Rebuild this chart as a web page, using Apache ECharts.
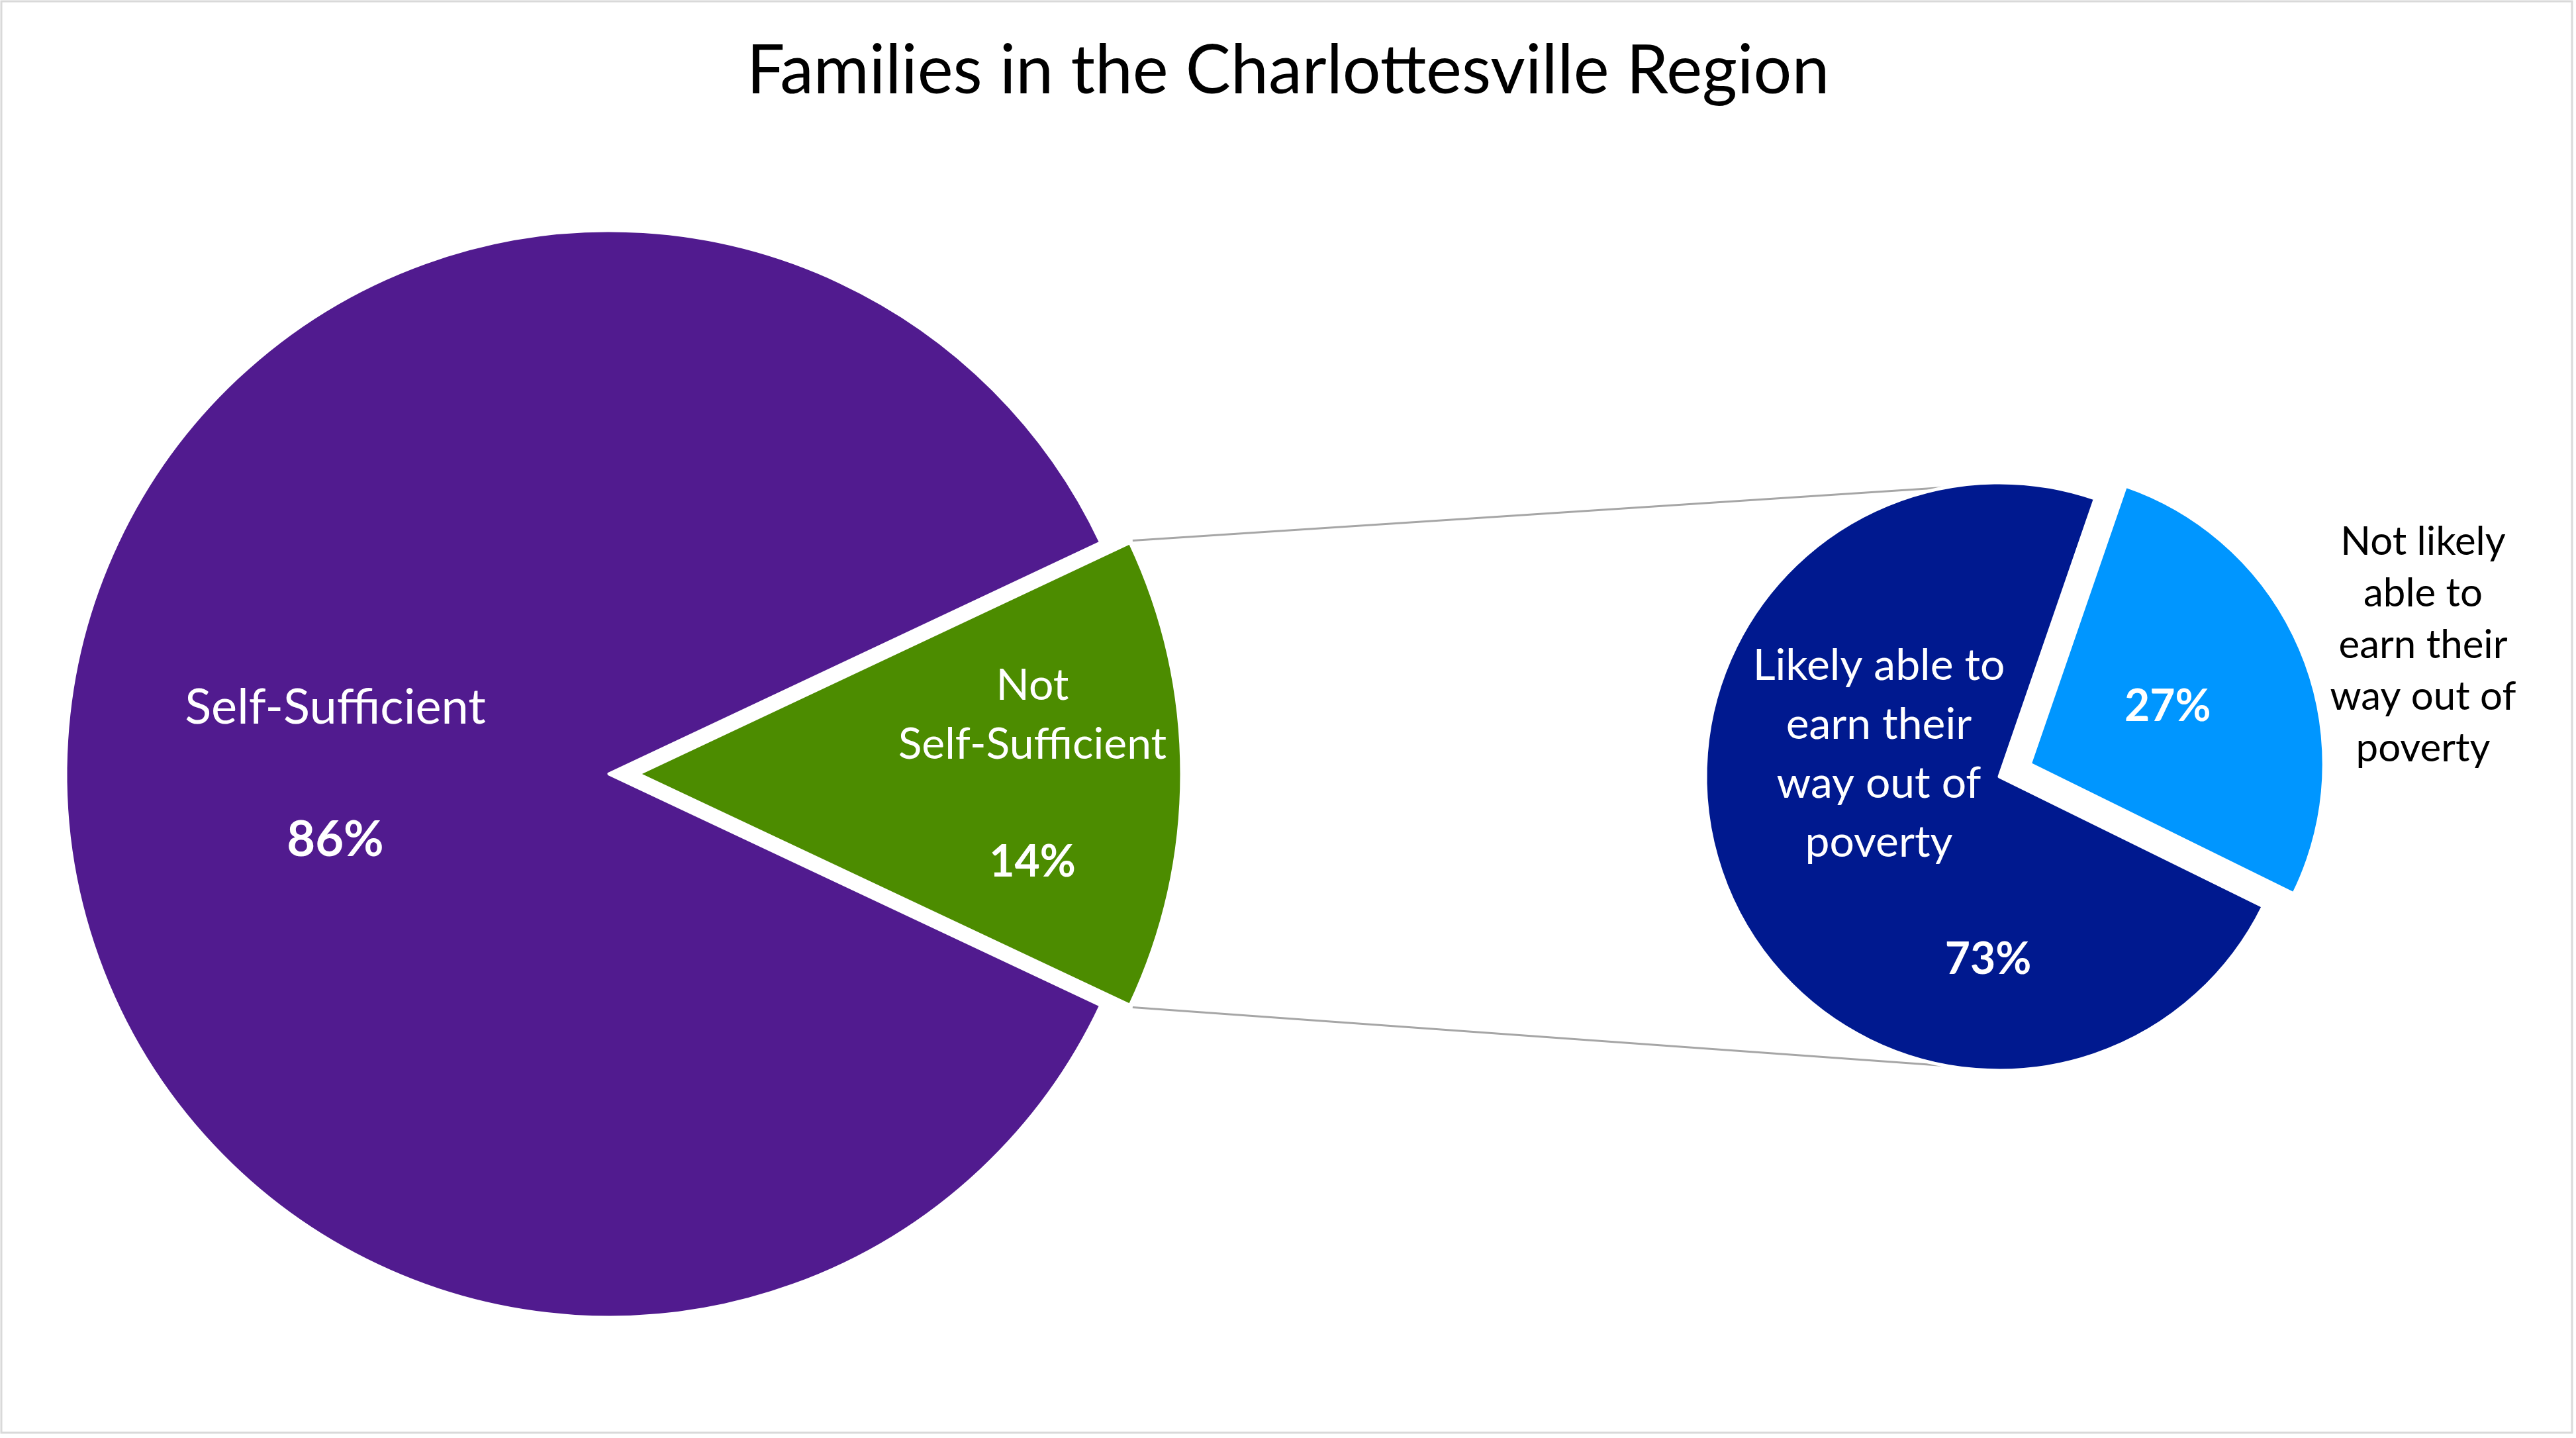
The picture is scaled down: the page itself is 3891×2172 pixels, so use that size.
<!DOCTYPE html>
<html><head><meta charset="utf-8">
<script src="https://cdn.jsdelivr.net/npm/echarts@6/dist/echarts.min.js"></script>
<style>html,body{margin:0;padding:0;background:#fff}#c{width:3891px;height:2172px}</style>
</head><body><div id="c"></div>
<script>
// ---- data ----
const chartTitle = 'Families in the Charlottesville Region';
const mainCategories = ['Self-Sufficient', 'Not Self-Sufficient'];
const mainValues = [86, 14];
const subCategories = ['Likely able to earn their way out of poverty', 'Not likely able to earn their way out of poverty'];
const subValues = [73, 27];

// ---- style ----
const FONT = 'Lato';
const mainColors = ['#511B8F', '#4C8C00'];
const subColors = ['#00198F', '#0096FF'];
const MAIN_C = [920, 1169], MAIN_R = 821, MAIN_OFF = 44;
const SUB_C = [3020, 1173], SUB_R = 444, SUB_OFF = 50;
const SUB_START = 333.8;

const mainTotal = mainValues.reduce((a, b) => a + b, 0);
const splitShare = mainValues[mainValues.length - 1] / mainTotal;
const MAIN_START = 360 - splitShare * 180; // split slice centred at 3 o'clock

const mctx = document.createElement('canvas').getContext('2d');
function wrap(text, font, maxW) {
  mctx.font = font;
  const words = text.split(' ');
  const lines = []; let cur = '';
  for (const w of words) {
    const t = cur ? cur + ' ' + w : w;
    if (cur && mctx.measureText(t).width > maxW) { lines.push(cur); cur = w; } else cur = t;
  }
  if (cur) lines.push(cur);
  return lines;
}
function richLines(lines, tok) { return lines.map(l => '{' + tok + '|' + l + '}').join('\n'); }

// connector lines between the split slice and the secondary pie
const half = splitShare * Math.PI;
const gx = MAIN_C[0] + MAIN_OFF, gy = MAIN_C[1];
const pA = [gx + MAIN_R * Math.cos(-half), gy + MAIN_R * Math.sin(-half)];
const pB = [gx + MAIN_R * Math.cos(half), gy + MAIN_R * Math.sin(half)];
const th = 100.2 * Math.PI / 180;
const qA = [SUB_C[0] + SUB_R * Math.cos(-th), SUB_C[1] + SUB_R * Math.sin(-th)];
const qB = [SUB_C[0] + SUB_R * Math.cos(th), SUB_C[1] + SUB_R * Math.sin(th)];

const chart = echarts.init(document.getElementById('c'), null, { renderer: 'canvas' });

const option = {
  animation: false,
  backgroundColor: '#fff',
  title: {
    text: chartTitle, left: 'center', top: 52,
    textStyle: { fontFamily: FONT, fontSize: 102, fontWeight: 'normal', color: '#000' }
  },
  graphic: [
    { type: 'rect', shape: { x: 2, y: 2, width: 3883, height: 2162 }, style: { fill: 'none', stroke: '#D9D9D9', lineWidth: 3 }, silent: true, z: -1 },
    { type: 'line', shape: { x1: pA[0] + 4, y1: pA[1] - 3, x2: qA[0], y2: qA[1] }, style: { stroke: '#A6A6A6', lineWidth: 3 }, silent: true },
    { type: 'line', shape: { x1: pB[0] + 4, y1: pB[1] + 3, x2: qB[0], y2: qB[1] }, style: { stroke: '#A6A6A6', lineWidth: 3 }, silent: true }
  ],
  series: [
    {
      type: 'pie', name: 'main', center: MAIN_C, radius: MAIN_R, startAngle: MAIN_START,
      selectedMode: 'single', selectedOffset: MAIN_OFF,
      itemStyle: { borderColor: '#fff', borderWidth: 5 },
      emphasis: { disabled: true },
      labelLine: { show: false },
      label: {
        show: true, position: 'inside', color: '#fff', fontFamily: FONT,
        formatter: p => {
          const big = p.dataIndex === 0;
          const n = big ? 'a' : 'b', q = big ? 'ap' : 'bp';
          const fs = big ? 74 : 66;
          const lines = wrap(p.name, fs + 'px ' + FONT, 480);
          return richLines(lines, n) + '\n{' + n + '| }\n{' + q + '|' + Math.round(p.percent) + '%}';
        },
        rich: {
          a: { fontFamily: FONT, fontSize: 74, lineHeight: 100, color: '#fff' },
          ap: { fontFamily: FONT, fontSize: 74, lineHeight: 100, color: '#fff', fontWeight: 'bold' },
          b: { fontFamily: FONT, fontSize: 66, lineHeight: 89, color: '#fff' },
          bp: { fontFamily: FONT, fontSize: 66, lineHeight: 89, color: '#fff', fontWeight: 'bold' }
        }
      },
      labelLayout: p => (p.dataIndex === 1 ? { dx: 182 } : {}),
      data: mainCategories.map((n, i) => ({
        name: n, value: mainValues[i], selected: i === mainCategories.length - 1,
        itemStyle: { color: mainColors[i] }
      }))
    },
    {
      type: 'pie', name: 'sub', center: SUB_C, radius: SUB_R, startAngle: SUB_START,
      selectedMode: 'single', selectedOffset: SUB_OFF,
      itemStyle: { borderColor: '#fff', borderWidth: 5 },
      emphasis: { disabled: true },
      labelLine: { show: false },
      label: {
        show: true, position: 'inside', color: '#fff', fontFamily: FONT, fontSize: 66, fontWeight: 'bold',
        formatter: p => Math.round(p.percent) + '%'
      },
      labelLayout: p => (p.dataIndex === 0 ? { x: 3003, y: 1450, align: 'center', verticalAlign: 'middle' } : {}),
      data: subCategories.map((n, i) => ({
        name: n, value: subValues[i], selected: i === 1,
        itemStyle: { color: subColors[i] }
      }))
    },
    {
      type: 'pie', name: 'subNames', center: SUB_C, radius: SUB_R, startAngle: SUB_START,
      silent: true, z: 5,
      itemStyle: { color: 'rgba(0,0,0,0)', borderWidth: 0 },
      emphasis: { disabled: true },
      labelLine: { show: false },
      label: {
        show: true, position: 'inside', fontFamily: FONT, fontSize: 66, lineHeight: 89,
        formatter: p => p.dataIndex === 0
          ? wrap(p.name, '66px ' + FONT, 395).join('\n')
          : wrap(p.name, '60px ' + FONT, 282).join('\n')
      },
      labelLayout: p => (p.dataIndex === 0
        ? { x: 2838, y: 1139, align: 'center', verticalAlign: 'middle' }
        : { x: 3660, y: 975, align: 'center', verticalAlign: 'middle' }),
      data: subCategories.map((n, i) => ({
        name: n, value: subValues[i],
        label: i === 0 ? { color: '#fff' } : { color: '#000', fontSize: 60, lineHeight: 78 }
      }))
    }
  ]
};
chart.setOption(option);
</script></body></html>
